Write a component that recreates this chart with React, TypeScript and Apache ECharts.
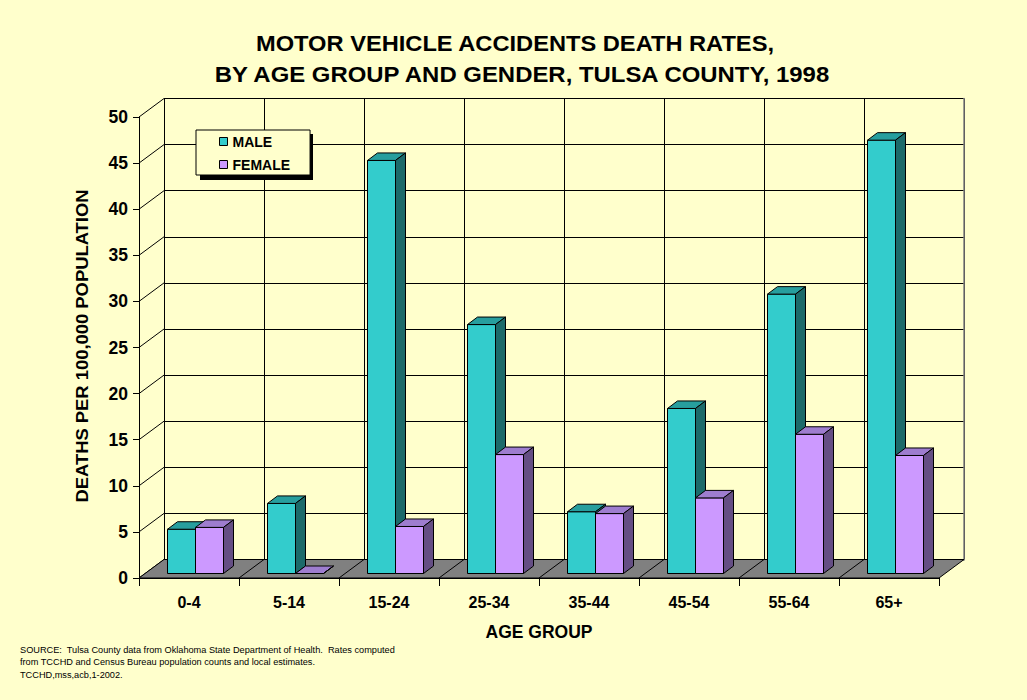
import React, { useEffect, useRef } from "react";
import * as echarts from "echarts";

const categories = ["0-4", "5-14", "15-24", "25-34", "35-44", "45-54", "55-64", "65+"];
const maleRates = [4.8, 7.6, 44.8, 27.0, 6.7, 17.9, 30.3, 47.0];
const femaleRates = [5.0, 0, 5.1, 12.9, 6.5, 8.2, 15.1, 12.8];
const yTicks = [0, 5, 10, 15, 20, 25, 30, 35, 40, 45, 50];
const titleLines = ["MOTOR VEHICLE ACCIDENTS DEATH RATES,", "BY AGE GROUP AND GENDER, TULSA COUNTY, 1998"];
const yAxisTitle = "DEATHS PER 100,000 POPULATION";
const xAxisTitle = "AGE GROUP";
const sourceLines = [
  "SOURCE:  Tulsa County data from Oklahoma State Department of Health.  Rates computed",
  "from TCCHD and Census Bureau population counts and local estimates.",
  "TCCHD,mss,acb,1-2002.",
];

const FONT = "'Liberation Sans', Arial, sans-serif";
const DX = 25;
const DY = -18.5;
const SX = 6.5;
const SY = -4.5;
const BDX = 10;
const BDY = -7.5;

function barRenderer(offset: number, front: string, topC: string, side: string) {
  return (params: any, api: any) => {
    const i = api.value(0);
    const v = api.value(1);
    const base = api.coord([i, 0]);
    const top = api.coord([i, v]);
    const bw = api.size([1, 0])[0];
    const w = bw * 0.28;
    const x0 = base[0] + offset * w + SX;
    const x1 = x0 + w;
    const yb = base[1] + SY;
    const yt = top[1] + SY;
    const stroke = { stroke: "#000", lineWidth: 1 };
    return {
      type: "group",
      children: [
        { type: "rect", shape: { x: x0, y: yt, width: w, height: yb - yt }, style: { fill: front, ...stroke } },
        {
          type: "polygon",
          shape: { points: [[x0, yt], [x1, yt], [x1 + BDX, yt + BDY], [x0 + BDX, yt + BDY]] },
          style: { fill: topC, ...stroke },
        },
        {
          type: "polygon",
          shape: { points: [[x1, yt], [x1 + BDX, yt + BDY], [x1 + BDX, yb + BDY], [x1, yb]] },
          style: { fill: side, ...stroke },
        },
      ],
    };
  };
}

export default function App() {
  const ref = useRef<HTMLDivElement>(null);
  useEffect(() => {
    if (!ref.current) return;
    const chart = echarts.init(ref.current, undefined, { renderer: "svg" });
    const option: any = {
      animation: false,
      backgroundColor: "#FFFFCC",
      textStyle: { fontFamily: FONT },
      legend: {
        orient: "vertical",
        left: 196,
        top: 130,
        padding: [4.5, 20, 3.5, 23],
        itemGap: 9,
        itemWidth: 8,
        itemHeight: 8,
        icon: "rect",
        backgroundColor: "#FFFFCC",
        borderColor: "#000",
        borderWidth: 1,
        textStyle: { fontSize: 14, fontWeight: "bold", color: "#000", fontFamily: FONT },
        data: [
          { name: "MALE", itemStyle: { color: "#33CCCC", borderColor: "#000", borderWidth: 1 } },
          { name: "FEMALE", itemStyle: { color: "#CC99FF", borderColor: "#000", borderWidth: 1 } },
        ],
      },
      graphic: [
        { type: "rect", left: 200, top: 134, shape: { width: 113, height: 46 }, style: { fill: "#000" }, z: 3 },
        {
          type: "text",
          x: 515,
          y: 44,
          scaleX: 1.1,
          style: {
            text: titleLines[0],
            fontSize: 21.5,
            fontWeight: "bold",
            fill: "#000",
            fontFamily: FONT,
            textAlign: "center",
            textVerticalAlign: "middle",
          },
        },
        {
          type: "text",
          x: 522,
          y: 74.7,
          scaleX: 1.113,
          style: {
            text: titleLines[1],
            fontSize: 21.5,
            fontWeight: "bold",
            fill: "#000",
            fontFamily: FONT,
            textAlign: "center",
            textVerticalAlign: "middle",
          },
        },
        {
          type: "text",
          x: 82,
          y: 346,
          rotation: Math.PI / 2,
          scaleX: 1.15,
          style: {
            text: yAxisTitle,
            fontSize: 16,
            fontWeight: "bold",
            fill: "#000",
            fontFamily: FONT,
            textAlign: "center",
            textVerticalAlign: "middle",
          },
        },
        ...sourceLines.map((t, k) => ({
          type: "text",
          left: 20,
          top: 645 + k * 12.5,
          style: { text: t, fontSize: 9.2, fill: "#000", fontFamily: FONT },
        })),
      ],
      grid: [
        { left: 139, right: 88, top: 117, bottom: 122 },
        { left: 164, right: 63, top: 98.5, bottom: 140.5 },
      ],
      xAxis: [
        {
          gridIndex: 0,
          type: "category",
          data: categories,
          boundaryGap: true,
          axisLine: { lineStyle: { color: "#000", width: 1 } },
          axisTick: { show: true, length: 8, lineStyle: { color: "#000" } },
          axisLabel: { fontSize: 16, fontWeight: "bold", color: "#000", margin: 16, fontFamily: FONT },
          splitLine: { show: false },
          name: xAxisTitle,
          nameLocation: "middle",
          nameGap: 45,
          nameTextStyle: { fontSize: 17.5, fontWeight: "bold", color: "#000", fontFamily: FONT },
          z: 5,
        },
        {
          gridIndex: 1,
          type: "category",
          data: categories,
          boundaryGap: true,
          position: "top",
          axisLine: { show: true, lineStyle: { color: "#808080", width: 1.5 } },
          axisTick: { show: false },
          axisLabel: { show: false },
          splitLine: { show: true, lineStyle: { color: "#000", width: 1 } },
        },
      ],
      yAxis: [
        {
          gridIndex: 0,
          type: "value",
          min: 0,
          max: 50,
          interval: 5,
          axisLine: { show: true, lineStyle: { color: "#000", width: 1 } },
          axisTick: { show: true, length: 6, lineStyle: { color: "#000" } },
          axisLabel: { fontSize: 17.5, fontWeight: "bold", color: "#000", margin: 11, fontFamily: FONT },
          splitLine: { show: false },
        },
        {
          gridIndex: 1,
          type: "value",
          min: 0,
          max: 50,
          interval: 5,
          position: "right",
          axisLine: { show: true, lineStyle: { color: "#808080", width: 1.5 } },
          axisTick: { show: false },
          axisLabel: { show: false },
          splitLine: { show: true, lineStyle: { color: "#000", width: 1 } },
        },
      ],
      series: [
        {
          name: "wall",
          type: "custom",
          xAxisIndex: 0,
          yAxisIndex: 0,
          silent: true,
          data: yTicks.map((v) => [0, v]),
          encode: { x: 0, y: 1 },
          renderItem: (params: any, api: any) => {
            const p = api.coord([api.value(0), api.value(1)]);
            const bw = api.size([1, 0])[0];
            const x0 = p[0] - bw / 2;
            return {
              type: "line",
              shape: { x1: x0, y1: p[1], x2: x0 + DX, y2: p[1] + DY },
              style: { stroke: "#000", lineWidth: 1 },
            };
          },
          z: 1,
        },
        {
          name: "floor",
          type: "custom",
          xAxisIndex: 0,
          yAxisIndex: 0,
          silent: true,
          data: [[0, 0]],
          encode: { x: 0, y: 1 },
          renderItem: (params: any, api: any) => {
            const a = api.coord([0, 0]);
            const b = api.coord([categories.length - 1, 0]);
            const bw = api.size([1, 0])[0];
            const xl = a[0] - bw / 2;
            const xr = b[0] + bw / 2;
            const y = a[1];
            const children: any[] = [
              {
                type: "polygon",
                shape: { points: [[xl, y], [xr, y], [xr + DX, y + DY], [xl + DX, y + DY]] },
                style: { fill: "#808080", stroke: "#000", lineWidth: 1 },
              },
            ];
            for (let k = 1; k < categories.length; k++) {
              const x = xl + k * bw;
              children.push({
                type: "line",
                shape: { x1: x, y1: y, x2: x + DX, y2: y + DY },
                style: { stroke: "#000", lineWidth: 1 },
              });
            }
            return { type: "group", children };
          },
          z: 2,
        },
        {
          name: "MALE",
          type: "custom",
          xAxisIndex: 0,
          yAxisIndex: 0,
          data: maleRates.map((v, i) => [i, v]),
          encode: { x: 0, y: 1 },
          itemStyle: { color: "#33CCCC" },
          renderItem: barRenderer(-1, "#33CCCC", "#279E9E", "#1C6A6A"),
          z: 3,
        },
        {
          name: "FEMALE",
          type: "custom",
          xAxisIndex: 0,
          yAxisIndex: 0,
          data: femaleRates.map((v, i) => [i, v]),
          encode: { x: 0, y: 1 },
          itemStyle: { color: "#CC99FF" },
          renderItem: barRenderer(0, "#CC99FF", "#9E7DCF", "#654E84"),
          z: 4,
        },
      ],
    };
    chart.setOption(option);
    return () => chart.dispose();
  }, []);
  return <div ref={ref} style={{ position: "absolute", left: 0, top: 0, width: 1027, height: 700 }} />;
}
